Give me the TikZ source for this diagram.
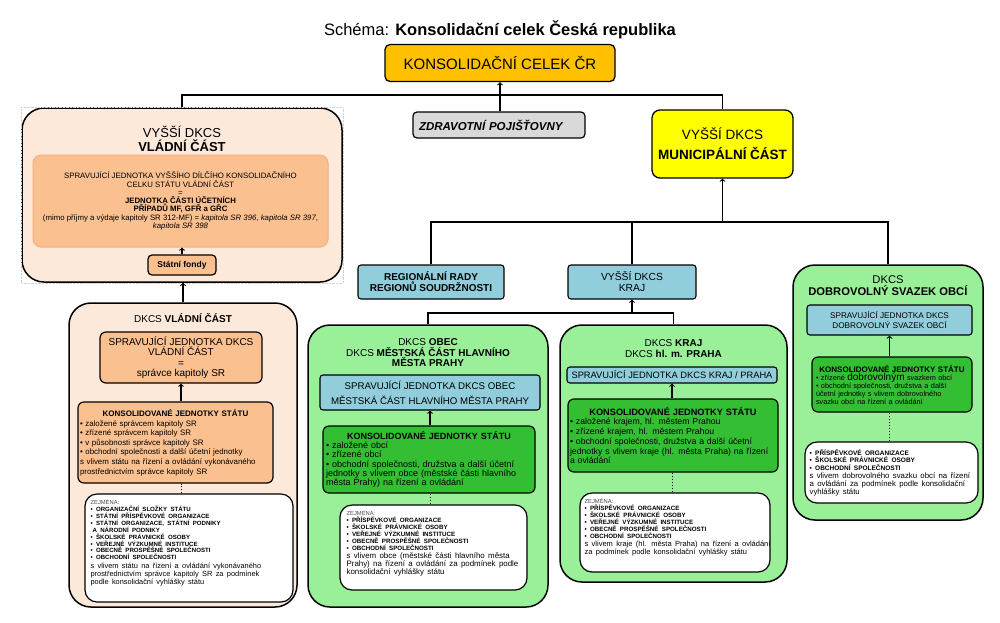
\documentclass[tikz,border=0pt]{standalone}
\usepackage{fontspec}
\setmainfont{Liberation Sans}
\usepackage{tikz}

\definecolor{orangeC}{HTML}{FFC000}
\definecolor{yellowC}{HTML}{FFFF00}
\definecolor{grayC}{HTML}{D9D9D9}
\definecolor{peachL}{HTML}{FDE9D9}
\definecolor{peachM}{HTML}{FAC090}
\definecolor{peachB}{HTML}{F5B07A}
\definecolor{greenL}{HTML}{99F099}
\definecolor{greenD}{HTML}{33BE33}
\definecolor{tealC}{HTML}{92CDDC}
\newcommand{\fsz}[2]{\fontsize{#1}{#2}\selectfont}

\begin{document}
\begin{tikzpicture}[x=1pt,y=-1pt,
    bigbox/.style={draw, line width=1.5pt, rounded corners=22pt, inner sep=0pt},
    innbox/.style={draw, line width=1.2pt, rounded corners=6pt, inner sep=3pt},
    tealbox/.style={draw, line width=1.1pt, rounded corners=3pt, fill=tealC},
    whbox/.style={draw, line width=1.2pt, rounded corners=12pt, fill=white},
    listtxt/.style={anchor=north west, align=left, inner sep=0pt},
    conn/.style={line width=1.1pt},
    dots/.style={line width=1pt, dotted}]

      \useasboundingbox (0,0) rectangle (1000,622);

      %Title
      \node [font=\fsz{16.5}{19}] (title) at (500,30)
            {Schéma: \textbf{Konsolidační celek Česká republika}};
      %Top level
      \node [draw, line width=1.3pt, rounded corners=5pt, fill=orangeC,
             minimum width=230pt, minimum height=37pt, font=\fsz{15}{18}]
            (celek) at (500,63) {KONSOLIDAČNÍ CELEK ČR};
      \node [draw, line width=1.2pt, rounded corners=4pt, fill=grayC,
             minimum width=172pt, minimum height=26pt, text width=160pt,
             align=left, font=\fsz{11.5}{13}\bfseries\itshape]
            (zdrav) at (499,125) {ZDRAVOTNÍ POJIŠŤOVNY};
      \node [draw, line width=1.3pt, rounded corners=8pt, fill=yellowC,
             minimum width=141pt, minimum height=68pt, align=center,
             font=\fsz{13.5}{20}]
            (muni) at (722.5,144) {VYŠŠÍ DKCS\\\textbf{MUNICIPÁLNÍ ČÁST}};

      %Vyssi DKCS vladni cast
      \node [bigbox, fill=peachL, minimum width=320pt, minimum height=174pt]
            (vladni) at (182,195) {};
      \draw [gray!35, densely dotted, thin] (vladni.south west) rectangle (vladni.north east);
      \node [align=center, font=\fsz{13}{14}] (vladniT) at (182,139)
            {VYŠŠÍ DKCS\\\textbf{VLÁDNÍ ČÁST}};
      \node [draw=peachB, line width=1pt, rounded corners=8pt, fill=peachM,
             minimum width=295pt, minimum height=92pt, align=center,
             font=\fsz{7.8}{8.3}]
            (spravVD) at (180.5,201)
            {SPRAVUJÍCÍ JEDNOTKA VYŠŠÍHO DÍLČÍHO KONSOLIDAČNÍHO\\
             CELKU STÁTU VLÁDNÍ ČÁST\\=\\
             \textbf{JEDNOTKA ČÁSTI ÚČETNÍCH}\\
             \textbf{PŘÍPADŮ MF, GFŘ a GŘC}\\
             (mimo příjmy a výdaje kapitoly SR 312-MF) = \textit{kapitola SR 396}, \textit{kapitola SR 397},\\
             \textit{kapitola SR 398}};
      \node [innbox, fill=peachM, rounded corners=4pt, minimum width=68pt,
             minimum height=20pt, font=\fsz{8.5}{10}\bfseries]
            (fondy) at (182,265) {Státní fondy};

      %DKCS vladni cast
      \node [bigbox, fill=peachL, minimum width=228pt, minimum height=304pt]
            (vlad) at (183,455) {};
      \node [font=\fsz{10}{12}] (vladT) at (183,318) {DKCS \textbf{VLÁDNÍ ČÁST}};
      \node [innbox, fill=peachM, minimum width=162pt, minimum height=51pt,
             align=center, font=\fsz{10}{10.5}]
            (spravV) at (181,357.5)
            {SPRAVUJÍCÍ JEDNOTKA DKCS\\VLÁDNÍ ČÁST\\=\\správce kapitoly SR};
      \node [innbox, fill=peachM, inner sep=2pt, minimum width=195pt, minimum height=81pt,
             text width=191pt, align=left, font=\fsz{7.9}{9.6}]
            (konsV) at (175.5,442.5)
            {{\centering\fsz{8}{9.6}\bfseries KONSOLIDOVANÉ JEDNOTKY STÁTU\par}
             • založené správcem kapitoly SR\\
             • zřízené správcem kapitoly SR\\
             • v působnosti správce kapitoly SR\\
             • obchodní společnosti a další účetní jednotky\\
             s vlivem státu na řízení a ovládání vykonávaného\\
             prostřednictvím správce kapitoly SR};
      \node [whbox, minimum width=208pt, minimum height=108pt] (whiteV) at (189,548) {};
      \node [listtxt, text width=200pt] (whiteVt) at ([xshift=6pt,yshift=-6pt]whiteV.north west)
            {{\fsz{5.8}{7}\color{black!70}ZEJMÉNA:\par}
             {\fsz{6.1}{6.9}\bfseries
             • ORGANIZAČNÍ SLOŽKY STÁTU\\
             • STÁTNÍ PŘÍSPĚVKOVÉ ORGANIZACE\\
             • STÁTNÍ ORGANIZACE, STÁTNÍ PODNIKY\\
             \hspace*{2pt}A NÁRODNÍ PODNIKY\\
             • ŠKOLSKÉ PRÁVNICKÉ OSOBY\\
             • VEŘEJNÉ VÝZKUMNÉ INSTITUCE\\
             • OBECNĚ PROSPĚŠNÉ SPOLEČNOSTI\\
             • OBCHODNÍ SPOLEČNOSTI\par}
             {\fsz{7.4}{8.3}
             s vlivem státu na řízení a ovládání vykonávaného\\
             prostřednictvím správce kapitoly SR za podmínek\\
             podle konsolidační vyhlášky státu\par}};

      %DKCS obec
      \node [bigbox, fill=greenL, minimum width=240pt, minimum height=282pt]
            (obec) at (428,466) {};
      \node [align=center, font=\fsz{10}{10.5}] (obecT) at (428,353)
            {DKCS \textbf{OBEC}\\DKCS \textbf{MĚSTSKÁ ČÁST HLAVNÍHO}\\\textbf{MĚSTA PRAHY}};
      \node [tealbox, minimum width=220pt, minimum height=35pt, align=center,
             font=\fsz{9.7}{15}]
            (obecS) at (430,392.5)
            {SPRAVUJÍCÍ JEDNOTKA DKCS OBEC\\MĚSTSKÁ ČÁST HLAVNÍHO MĚSTA PRAHY};
      \node [innbox, fill=greenD, inner sep=2pt, minimum width=212pt, minimum height=67pt,
             text width=206pt, align=left, font=\fsz{9}{9.3}]
            (obecK) at (429,459.5)
            {{\centering\fsz{9}{9.3}\bfseries KONSOLIDOVANÉ JEDNOTKY STÁTU\par}
             • založené obcí\\
             • zřízené obcí\\
             • obchodní společnosti, družstva a další účetní\\
             jednotky s vlivem obce (městské části hlavního\\
             města Prahy) na řízení a ovládání};
      \node [whbox, minimum width=187pt, minimum height=85pt] (obecW) at (433.5,547.5) {};
      \node [listtxt, text width=178pt] (obecWt) at ([xshift=7pt,yshift=-6pt]obecW.north west)
            {{\fsz{5.8}{7}\color{black!70}ZEJMÉNA:\par}
             {\fsz{6.2}{6.9}\bfseries
             • PŘÍSPĚVKOVÉ ORGANIZACE\\
             • ŠKOLSKÉ PRÁVNICKÉ OSOBY\\
             • VEŘEJNÉ VÝZKUMNÉ INSTITUCE\\
             • OBECNĚ PROSPĚŠNÉ SPOLEČNOSTI\\
             • OBCHODNÍ SPOLEČNOSTI\par}
             {\fsz{7.9}{8.2}
             s vlivem obce (městské části hlavního města\\
             Prahy) na řízení a ovládání za podmínek podle\\
             konsolidační vyhlášky státu\par}};

      %DKCS kraj
      \node [bigbox, fill=greenL, minimum width=227pt, minimum height=257pt]
            (kraj) at (673.5,453.5) {};
      \node [align=center, font=\fsz{10}{11}] (krajT) at (673.5,348.5)
            {DKCS \textbf{KRAJ}\\DKCS \textbf{hl. m. PRAHA}};
      \node [tealbox, minimum width=210pt, minimum height=16pt, inner sep=1pt, font=\fsz{9.3}{10}]
            (krajS) at (672,375) {SPRAVUJÍCÍ JEDNOTKA DKCS KRAJ / PRAHA};
      \node [innbox, fill=greenD, inner sep=2pt, minimum width=210pt, minimum height=73pt,
             text width=206pt, align=left, font=\fsz{8.7}{9.7}]
            (krajK) at (673,435.5)
            {{\centering\fsz{9.2}{9.7}\bfseries KONSOLIDOVANÉ JEDNOTKY STÁTU\par}
             • založené krajem, hl. městem Prahou\\
             • zřízené krajem, hl. městem Prahou\\
             • obchodní společnosti, družstva a další účetní\\
             jednotky s vlivem kraje (hl. města Praha) na řízení\\
             a ovládání};
      \node [whbox, minimum width=190pt, minimum height=79pt] (krajW) at (675,532.5) {};
      \node [listtxt, text width=186pt] (krajWt) at ([xshift=5pt,yshift=-6pt]krajW.north west)
            {{\fsz{5.8}{7}\color{black!70}ZEJMÉNA:\par}
             {\fsz{6.2}{6.9}\bfseries
             • PŘÍSPĚVKOVÉ ORGANIZACE\\
             • ŠKOLSKÉ PRÁVNICKÉ OSOBY\\
             • VEŘEJNÉ VÝZKUMNÉ INSTITUCE\\
             • OBECNĚ PROSPĚŠNÉ SPOLEČNOSTI\\
             • OBCHODNÍ SPOLEČNOSTI\par}
             {\fsz{7.5}{8}
             s vlivem kraje (hl. města Praha) na řízení a ovládání\\
             za podmínek podle konsolidační vyhlášky státu\par}};

      %DKCS dobrovolny svazek obci
      \node [bigbox, fill=greenL, minimum width=190pt, minimum height=255pt]
            (dobro) at (888,392.5) {};
      \node [align=center, font=\fsz{11.2}{12}] (dobroT) at (888,286)
            {DKCS\\\textbf{DOBROVOLNÝ SVAZEK OBCÍ}};
      \node [tealbox, minimum width=165pt, minimum height=30pt, align=center,
             font=\fsz{8.2}{9.5}]
            (dobroS) at (889.5,320)
            {SPRAVUJÍCÍ JEDNOTKA DKCS\\DOBROVOLNÝ SVAZEK OBCÍ};
      \node [innbox, fill=greenD, minimum width=160pt, minimum height=55pt,
             text width=152pt, align=left, font=\fsz{7.3}{8}]
            (dobroK) at (892,384.5)
            {{\centering\fsz{8}{8}\bfseries KONSOLIDOVANÉ JEDNOTKY STÁTU\par}
             • zřízené {\fsz{10}{8}dobrovolným} svazkem obcí\\
             • obchodní společnosti, družstva a další\\
             účetní jednotky s vlivem dobrovolného\\
             svazku obcí na řízení a ovládání};
      \node [whbox, minimum width=173pt, minimum height=61pt] (dobroW) at (891.5,472.5) {};
      \node [listtxt, text width=168pt] (dobroWt) at ([xshift=5pt,yshift=-8pt]dobroW.north west)
            {{\fsz{6.5}{7.4}\bfseries
             • PŘÍSPĚVKOVÉ ORGANIZACE\\
             • ŠKOLSKÉ PRÁVNICKÉ OSOBY\\
             • OBCHODNÍ SPOLEČNOSTI\par}
             {\fsz{7.8}{8}
             s vlivem dobrovolného svazku obcí na řízení\\
             a ovládání za podmínek podle konsolidační\\
             vyhlášky státu\par}};

      %Regionalni rady, vyssi DKCS kraj
      \node [tealbox, minimum width=146pt, minimum height=34pt, align=center,
             font=\fsz{10}{11}\bfseries]
            (rada) at (431,282) {REGIONÁLNÍ RADY\\REGIONŮ SOUDRŽNOSTI};
      \node [tealbox, minimum width=128pt, minimum height=34pt, align=center,
             font=\fsz{10.3}{11}]
            (krajV) at (632,282) {VYŠŠÍ DKCS\\KRAJ};

      %Connections
      \coordinate (bus1) at (500,95);
      \coordinate (bus2) at (722.5,222);
      \coordinate (bus3) at (632,313);
      \draw [conn] (vladni.north) -- (vladni.north |- bus1) -- (muni.north |- bus1) -- (muni.north);
      \draw [conn, ->] (celek.south |- zdrav.north) -- (celek.south);
      \draw [conn, ->] (bus2) -- (muni.south);
      \draw [conn] (rada.north) -- (rada.north |- bus2) -- (dobro.north |- bus2) -- (dobro.north);
      \draw [conn] (krajV.north) -- (krajV.north |- bus2);
      \draw [conn, ->] (bus3) -- (krajV.south);
      \draw [conn] (obec.north) -- (obec.north |- bus3) -- (kraj.north |- bus3) -- (kraj.north);
      \draw [conn, ->] (vlad.north) -- (vlad.north |- vladni.south);
      \draw [conn, ->] (fondy.north) -- (fondy.north |- spravVD.south);
      %Inside
      \foreach \s/\k/\w in {spravV/konsV/whiteV, obecS/obecK/obecW, krajS/krajK/krajW, dobroS/dobroK/dobroW} {
        \draw [conn, ->] (\s.south |- \k.north) -- (\s.south);
        \draw [dots] (\s.south |- \w.north) -- (\s.south |- \k.south);
      }
    \end{tikzpicture}
\end{document}
